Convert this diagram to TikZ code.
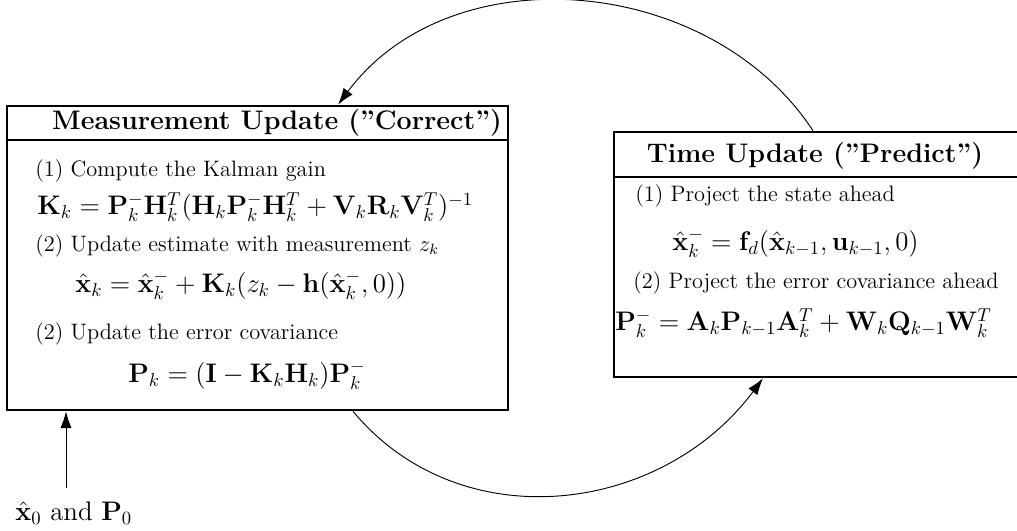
\documentclass[tikz,border=0pt]{standalone}
\usetikzlibrary{arrows.meta}
\newdimen\pxu
\pxu=0.537pt
\begin{document}
\begin{tikzpicture}[x=0.537pt,y=-0.537pt,
  box/.style={draw,line width=1.4pt,inner sep=0pt},
  ttl/.style={font=\Large\bfseries,inner sep=0pt},
  txt/.style={font=\large,anchor=west,inner sep=0pt},
  eqn/.style={font=\Large,anchor=west,inner sep=0pt},
  conn/.style={line width=0.5pt,-{Latex[length=9pt,width=6pt]}}]
\useasboundingbox (0,0) rectangle (1017,531);
% boxes
\node[box,minimum width={501*\pxu},minimum height={304*\pxu}] (L) at (257.5,258) {};
\node[box,minimum width={416*\pxu},minimum height={245*\pxu}] (R) at (822,254.5) {};
\draw[line width=1.4pt] (L.west |- 0,140) -- (L.east |- 0,140);
\draw[line width=1.4pt] (R.west |- 0,177) -- (R.east |- 0,177);
% left box texts
\node[ttl] (Lt) at (277,123) {Measurement Update (''Correct'')};
\node[txt] (L1) at (35,171) {(1) Compute the Kalman gain};
\node[eqn] (L1e) at (37,207) {$\mathbf{K}_k=\mathbf{P}_k^-\mathbf{H}_k^T(\mathbf{H}_k\mathbf{P}_k^-\mathbf{H}_k^T+\mathbf{V}_k\mathbf{R}_k\mathbf{V}_k^T)^{-1}$};
\node[txt] (L2) at (35,246) {(2) Update estimate with measurement $z_k$};
\node[eqn] (L2e) at (75,285) {$\hat{\mathbf{x}}_k=\hat{\mathbf{x}}_k^-+\mathbf{K}_k(z_k-\mathbf{h}(\hat{\mathbf{x}}_k^-,0))$};
\node[txt] (L3) at (35,334) {(2) Update the error covariance};
\node[eqn,anchor=center] (L3e) at (247,375) {$\mathbf{P}_k=(\mathbf{I}-\mathbf{K}_k\mathbf{H}_k)\mathbf{P}_k^-$};
% right box texts
\node[ttl] (Rt) at (815,156) {Time Update (''Predict'')};
\node[txt] (R1) at (635,196) {(1) Project the state ahead};
\node[eqn] (R1e) at (672,243) {$\hat{\mathbf{x}}_k^-=\mathbf{f}_d(\hat{\mathbf{x}}_{k-1},\mathbf{u}_{k-1},0)$};
\node[txt] (R2) at (633,283) {(2) Project the error covariance ahead};
\node[eqn] (R2e) at (615,323) {$\mathbf{P}_k^-=\mathbf{A}_k\mathbf{P}_{k-1}\mathbf{A}_k^T+\mathbf{W}_k\mathbf{Q}_{k-1}\mathbf{W}_k^T$};
% initial input
\node[txt,font=\Large] (I) at (15,513) {$\hat{\mathbf{x}}_0$ and $\mathbf{P}_0$};
\coordinate (in) at (66,488);
\draw[conn] (in) -- (in |- L.south);
% arcs
\draw[conn] (R.north -| 813,0) .. controls (710,-26) and (451,-47) .. (L.north -| 338,0);
\draw[conn] (L.south -| 353,0) .. controls (460,540) and (661,515) .. (R.south -| 763,0);
\end{tikzpicture}
\end{document}
